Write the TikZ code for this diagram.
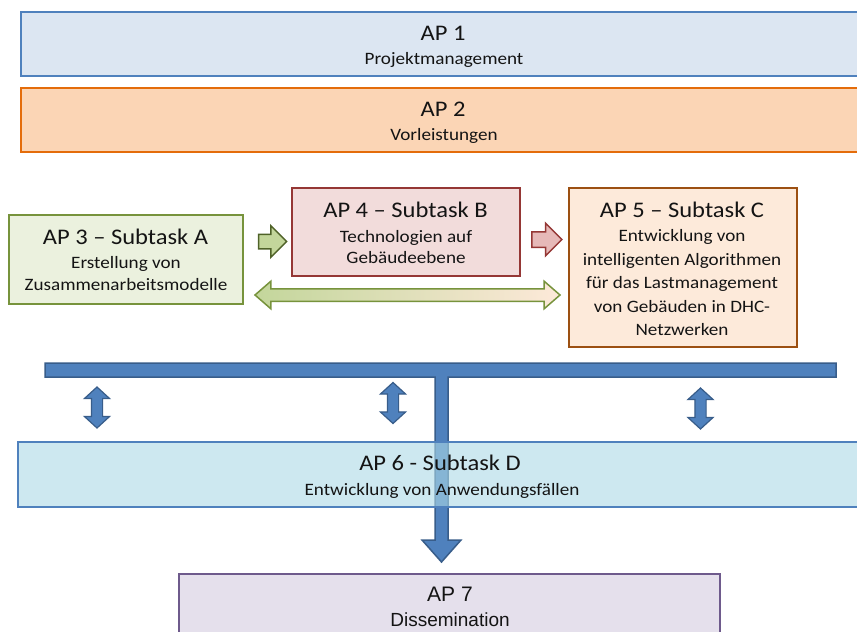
\documentclass[tikz,border=0pt]{standalone}
\usepackage{fontspec}
\setmainfont{Carlito}[FakeStretch=1.1]
\newfontfamily\arialf{Liberation Sans}
\usetikzlibrary{shapes.arrows}
\definecolor{txt}{HTML}{141414}
\definecolor{aoneF}{HTML}{DCE6F2}
\definecolor{aoneD}{HTML}{4F81BD}
\definecolor{atwoF}{HTML}{FBD5B5}
\definecolor{atwoD}{HTML}{E46C0A}
\definecolor{athrF}{HTML}{EBF1DE}
\definecolor{athrD}{HTML}{77933C}
\definecolor{afouF}{HTML}{F2DCDB}
\definecolor{afouD}{HTML}{953735}
\definecolor{afivF}{HTML}{FDEADA}
\definecolor{afivD}{HTML}{9C5012}
\definecolor{asixF}{HTML}{ACD9E6}
\definecolor{asixD}{HTML}{4F81BD}
\definecolor{asevF}{HTML}{E5E0EC}
\definecolor{asevD}{HTML}{6E5A8C}
\definecolor{tB}{HTML}{4F81BD}
\definecolor{tD}{HTML}{385D8A}
\definecolor{grnF}{HTML}{C3D69B}
\definecolor{grnD}{HTML}{4F6228}
\definecolor{grnO}{HTML}{77933C}
\definecolor{redF}{HTML}{E6B9B8}
\definecolor{peachF}{HTML}{FDE9D9}
\newcommand\mlines[1]{\begin{tabular}[t]{@{}c@{}}#1\end{tabular}}
\begin{document}
\begin{tikzpicture}[x=1pt,y=-1pt,
  box/.style={draw, rectangle, line width=2.5pt, inner sep=0pt},
  ttl/.style={anchor=base, inner sep=0pt, text=txt, font=\fontsize{22.3}{26}\selectfont},
  sub/.style={anchor=base, inner sep=0pt, text=txt, font=\fontsize{17.4}{#1}\selectfont},
  sub/.default=23.5,
  arialttl/.style={anchor=base, inner sep=0pt, text=txt, font=\arialf\fontsize{21}{24}\selectfont},
  arialsub/.style={anchor=base, inner sep=0pt, text=txt, font=\arialf\fontsize{19}{22}\selectfont},
  grnarr/.style={single arrow, draw=grnD, fill=grnF, line width=1.5pt, inner xsep=0pt,
    inner ysep=6.5pt, single arrow head extend=8.5pt, minimum height=28pt},
  redarr/.style={single arrow, draw=afouD, fill=redF, line width=1.5pt, inner xsep=0pt,
    inner ysep=7pt, single arrow head extend=8.5pt, minimum height=30pt},
  longarr/.style={double arrow, draw=grnO, left color=grnF, right color=peachF,
    line width=1.5pt, inner xsep=0pt, inner ysep=5.5pt, double arrow head extend=7.5pt,
    double arrow tip angle=82, minimum height=305pt},
  vdarr/.style={double arrow, rotate=90, draw=tD, fill=tB, line width=1.2pt,
    minimum height=41pt, inner xsep=0pt, inner ysep=5pt, double arrow head extend=7pt,
    double arrow tip angle=95},
  tshape/.style={draw=tD, fill=tB, line width=1.5pt, line join=miter}
]
\clip (0,0) rectangle (857,632);
\fill[white] (0,0) rectangle (857,632);

% AP 1
\node[box, fill=aoneF, draw=aoneD, minimum width=849pt, minimum height=64pt] (ap1) at (445.5,44) {};
\node[ttl] (ap1t) at (443,40) {AP 1};
\node[sub] (ap1s) at (444,64) {Projektmanagement};

% AP 2
\node[box, fill=atwoF, draw=atwoD, minimum width=849pt, minimum height=64pt] (ap2) at (445.5,120) {};
\node[ttl] (ap2t) at (443,116) {AP 2};
\node[sub] (ap2s) at (444,140) {Vorleistungen};

% AP 3
\node[box, fill=athrF, draw=athrD, minimum width=234pt, minimum height=89pt] (ap3) at (126,259.5) {};
\node[ttl] (ap3t) at (125.5,244) {AP 3 – Subtask A};
\node[sub=22.5] (ap3s) at (126,268) {\mlines{Erstellung von\\Zusammenarbeitsmodelle}};

% AP 4
\node[box, fill=afouF, draw=afouD, minimum width=228pt, minimum height=88pt] (ap4) at (406,232) {};
\node[ttl] (ap4t) at (405.5,217) {AP 4 – Subtask B};
\node[sub=21] (ap4s) at (406,242.5) {\mlines{Technologien auf\\Gebäudeebene}};

% AP 5
\node[box, fill=afivF, draw=afivD, minimum width=228pt, minimum height=159pt] (ap5) at (683,267.5) {};
\node[ttl] (ap5t) at (682,217) {AP 5 – Subtask C};
\node[sub=23.5] (ap5s) at (682,241.7) {\mlines{Entwicklung von\\intelligenten Algorithmen\\für das Lastmanagement\\von Gebäuden in DHC-\\Netzwerken}};

% arrows between subtasks
\node[grnarr] (g1) at (269,241.5) {};
\node[redarr] (r1) at (543,239.5) {};
\node[longarr] (g2) at (407.5,295) {};

% T-bar with arrow to AP 7
\draw[tshape] (45,363) -- (836,363) -- (836,377) -- (448,377) -- (448,540)
  -- (461,540) -- (441.5,562) -- (422,540) -- (435,540) -- (435,377) -- (45,377) -- cycle;

% small double arrows
\node[vdarr] (d1) at (97,407.5) {};
\node[vdarr] (d2) at (393,403) {};
\node[vdarr] (d3) at (700.5,408.5) {};

% AP 6 (semi-transparent over the stem)
\node[box, fill=asixF, fill opacity=0.6, draw=asixD, minimum width=852pt, minimum height=65pt] (ap6) at (444,474.5) {};
\node[ttl] (ap6t) at (440,470) {AP 6 - Subtask D};
\node[sub] (ap6s) at (442,495) {Entwicklung von Anwendungsfällen};

% AP 7
\node[box, fill=asevF, draw=asevD, line width=2pt, minimum width=541pt, minimum height=90pt] (ap7) at (449.5,618.5) {};
\node[arialttl] (ap7t) at (450,601.7) {AP 7};
\node[arialsub] (ap7s) at (450,626) {Dissemination};
\end{tikzpicture}
\end{document}
